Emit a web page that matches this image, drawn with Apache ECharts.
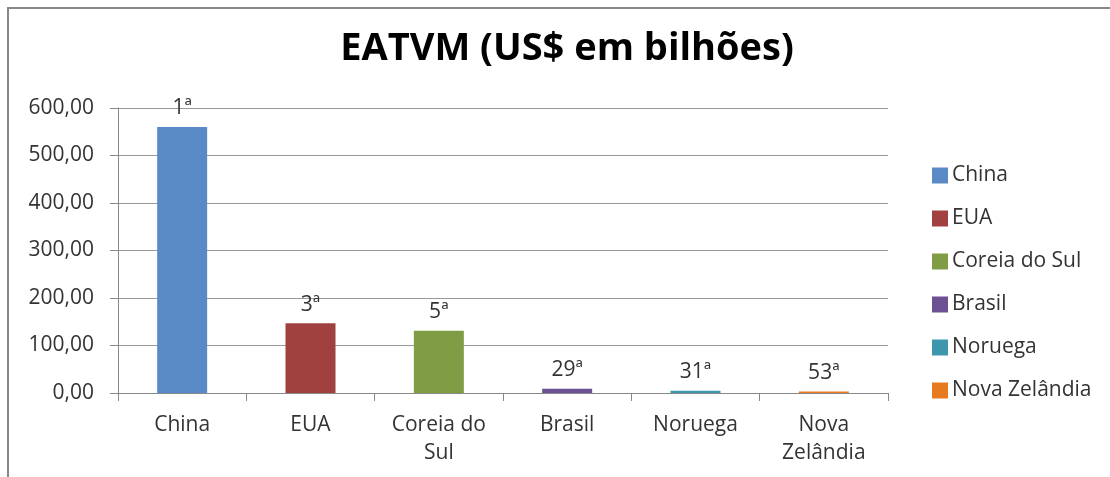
<!DOCTYPE html>
<html>
<head>
<meta charset="utf-8">
<script src="https://cdn.jsdelivr.net/npm/echarts@6/dist/echarts.min.js"></script>
<style>
  html, body { margin: 0; padding: 0; background: #fff; }
  #main { width: 1110px; height: 477px; }
</style>
</head>
<body>
<div id="main"></div>
<script>
// categorias (países) e valores em US$ bilhões
var paises = ['China', 'EUA', 'Coreia do Sul', 'Brasil', 'Noruega', 'Nova Zelândia'];
var rotulosEixo = ['China', 'EUA', 'Coreia do\nSul', 'Brasil', 'Noruega', 'Nova\nZelândia'];
var valores = [560, 147, 131, 9, 5, 3];
var posicoes = ['1ª', '3ª', '5ª', '29ª', '31ª', '53ª'];
var cores = ['#5A8AC6', '#A0413F', '#809D45', '#6C5193', '#3D96AE', '#E67A1E'];

var fonte = 'Open Sans, Lato, sans-serif';
var chart = echarts.init(document.getElementById('main'));

// uma série por país, empilhadas para ficarem centradas na categoria
var series = [];
for (var i = 0; i < paises.length; i++) {
  var d = [];
  for (var j = 0; j < paises.length; j++) {
    d.push(j == i ? valores[i] : '-');
  }
  series.push({
    name: paises[i],
    type: 'bar',
    stack: 'total',
    barWidth: 50,
    data: d,
    itemStyle: { color: cores[i] },
    label: {
      show: true,
      position: 'top',
      distance: 8,
      color: '#333',
      fontSize: 21,
      fontFamily: fonte,
      formatter: (function (k) { return function () { return posicoes[k]; }; })(i)
    }
  });
}

var option = {
  backgroundColor: '#fff',
  animation: false,
  title: {
    text: 'EATVM (US$ em bilhões)',
    left: 562,
    textAlign: 'center',
    top: 25,
    textStyle: { fontSize: 38, fontWeight: 'bold', color: '#000', fontFamily: fonte }
  },
  legend: {
    orient: 'vertical',
    left: 927,
    top: 160,
    itemWidth: 16,
    itemHeight: 16,
    itemGap: 22,
    icon: 'rect',
    textStyle: { fontSize: 21, color: '#333', fontFamily: fonte, padding: [0, 0, 0, -1] },
    data: paises
  },
  grid: { left: 118, right: 222, top: 108, bottom: 84 },
  xAxis: {
    type: 'category',
    data: rotulosEixo,
    axisLine: { lineStyle: { color: '#888' } },
    axisTick: { show: true, length: 8, lineStyle: { color: '#888' } },
    axisLabel: { fontSize: 21, color: '#333', fontFamily: fonte, margin: 18, lineHeight: 28, interval: 0 }
  },
  yAxis: {
    type: 'value',
    min: 0,
    max: 600,
    interval: 100,
    axisLine: { show: true, lineStyle: { color: '#888' } },
    axisTick: { show: true, length: 8, lineStyle: { color: '#888' } },
    splitLine: { lineStyle: { color: '#999' } },
    axisLabel: {
      fontSize: 21, color: '#333', fontFamily: fonte, margin: 24,
      formatter: function (v) { return v.toFixed(2).replace('.', ','); }
    }
  },
  graphic: [{
    type: 'polyline',
    shape: { points: [[8, 477], [8, 8], [1110, 8]] },
    style: { stroke: '#888', lineWidth: 2, fill: null }
  }],
  series: series
};

chart.setOption(option);
</script>
</body>
</html>
